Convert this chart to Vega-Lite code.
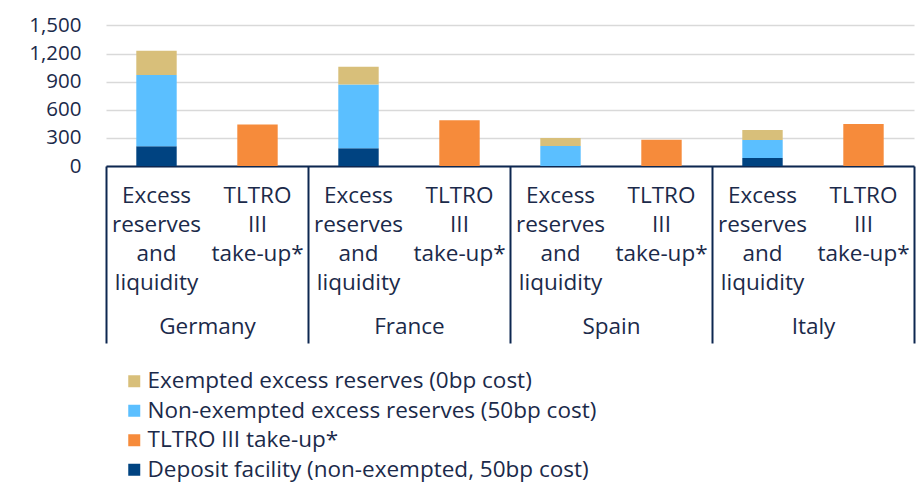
{
  "$schema": "https://vega.github.io/schema/vega-lite/v6.json",
  "width": 808,
  "height": 150,
  "autosize": "none",
  "padding": {"left": 106, "top": 16, "right": 4, "bottom": 318},
  "background": "white",
  "config": {
    "font": "Open Sans",
    "view": {"stroke": null},
    "axis": {"labelColor": "#1B2A4A", "labelFont": "Open Sans", "labelFontSize": 22.5},
    "axisY": {
      "values": [0, 300, 600, 900, 1200, 1500],
      "format": ",d",
      "domain": false,
      "ticks": false,
      "labelOverlap": false,
      "labelPadding": 25,
      "labelFontSize": 20.5,
      "gridColor": "#D9D9D9",
      "gridWidth": 1.6,
      "title": null
    },
    "legend": {"labelColor": "#1B2A4A", "labelFont": "Open Sans", "labelFontSize": 22.5, "labelLimit": 700}
  },
  "data": {
    "values": [
      {"country": "Germany", "slot": "Germany|Excess", "series": "Deposit facility (non-exempted, 50bp cost)", "value": 210},
      {"country": "Germany", "slot": "Germany|Excess", "series": "Non-exempted excess reserves (50bp cost)", "value": 760},
      {"country": "Germany", "slot": "Germany|Excess", "series": "Exempted excess reserves (0bp cost)", "value": 260},
      {"country": "Germany", "slot": "Germany|TLTRO", "series": "TLTRO III take-up*", "value": 443},
      {"country": "France", "slot": "France|Excess", "series": "Deposit facility (non-exempted, 50bp cost)", "value": 190},
      {"country": "France", "slot": "France|Excess", "series": "Non-exempted excess reserves (50bp cost)", "value": 680},
      {"country": "France", "slot": "France|Excess", "series": "Exempted excess reserves (0bp cost)", "value": 190},
      {"country": "France", "slot": "France|TLTRO", "series": "TLTRO III take-up*", "value": 489},
      {"country": "Spain", "slot": "Spain|Excess", "series": "Deposit facility (non-exempted, 50bp cost)", "value": 0},
      {"country": "Spain", "slot": "Spain|Excess", "series": "Non-exempted excess reserves (50bp cost)", "value": 213},
      {"country": "Spain", "slot": "Spain|Excess", "series": "Exempted excess reserves (0bp cost)", "value": 85},
      {"country": "Spain", "slot": "Spain|TLTRO", "series": "TLTRO III take-up*", "value": 280},
      {"country": "Italy", "slot": "Italy|Excess", "series": "Deposit facility (non-exempted, 50bp cost)", "value": 85},
      {"country": "Italy", "slot": "Italy|Excess", "series": "Non-exempted excess reserves (50bp cost)", "value": 192},
      {"country": "Italy", "slot": "Italy|Excess", "series": "Exempted excess reserves (0bp cost)", "value": 106},
      {"country": "Italy", "slot": "Italy|TLTRO", "series": "TLTRO III take-up*", "value": 447}
    ]
  },
  "layer": [
    {
      "transform": [
        {"calculate": "indexof(['Deposit facility (non-exempted, 50bp cost)','Non-exempted excess reserves (50bp cost)','Exempted excess reserves (0bp cost)','TLTRO III take-up*'], datum.series)", "as": "stackOrder"}
      ],
      "mark": {"type": "bar"},
      "encoding": {
        "x": {
          "field": "slot",
          "type": "nominal",
          "sort": ["Germany|Excess", "Germany|TLTRO", "France|Excess", "France|TLTRO", "Spain|Excess", "Spain|TLTRO", "Italy|Excess", "Italy|TLTRO"],
          "scale": {"paddingInner": 0.6, "paddingOuter": 0.3},
          "axis": {
            "orient": "bottom",
            "title": null,
            "ticks": false,
            "labelAngle": 0,
            "labelAlign": "center",
            "labelPadding": 18,
            "labelLineHeight": 29,
            "labelOverlap": false,
            "labelExpr": "indexof(datum.value, 'Excess') >= 0 ? ['Excess', 'reserves', 'and', 'liquidity'] : ['TLTRO', 'III', 'take-up*']",
            "domainColor": "#0D2750",
            "domainWidth": 2,
            "grid": false
          }
        },
        "y": {
          "field": "value",
          "type": "quantitative",
          "stack": "zero",
          "scale": {"domain": [0, 1500]},
          "axis": {"values": [0, 300, 600, 900, 1200, 1500], "labelOverlap": false}
        },
        "color": {
          "field": "series",
          "type": "nominal",
          "scale": {
            "domain": ["Exempted excess reserves (0bp cost)", "Non-exempted excess reserves (50bp cost)", "TLTRO III take-up*", "Deposit facility (non-exempted, 50bp cost)"],
            "range": ["#D8BF7A", "#5BBFFF", "#F68B3B", "#004381"]
          },
          "legend": {
            "title": null,
            "orient": "none",
            "legendX": 17,
            "legendY": 354,
            "direction": "vertical",
            "symbolType": "square",
            "symbolSize": 144,
            "symbolStrokeWidth": 0,
            "labelOffset": 2,
            "rowPadding": 6.5,
            "labelLimit": 700
          }
        },
        "order": {"field": "stackOrder", "type": "quantitative"}
      }
    },
    {
      "mark": {"type": "bar", "opacity": 0},
      "encoding": {
        "x": {
          "field": "country",
          "type": "nominal",
          "sort": ["Germany", "France", "Spain", "Italy"],
          "scale": {"type": "band", "paddingInner": 0, "paddingOuter": 0},
          "axis": {
            "orient": "bottom",
            "title": null,
            "domain": false,
            "ticks": true,
            "tickBand": "extent",
            "tickSize": 177,
            "tickWidth": 2,
            "tickColor": "#0D2750",
            "labelAngle": 0,
            "labelAlign": "center",
            "labelPadding": -28,
            "labelOverlap": false,
            "grid": false
          }
        },
        "y": {"datum": 0, "axis": {"values": [0, 300, 600, 900, 1200, 1500], "labelOverlap": false}}
      }
    }
  ],
  "resolve": {"scale": {"x": "independent"}, "axis": {"x": "independent"}}
}
